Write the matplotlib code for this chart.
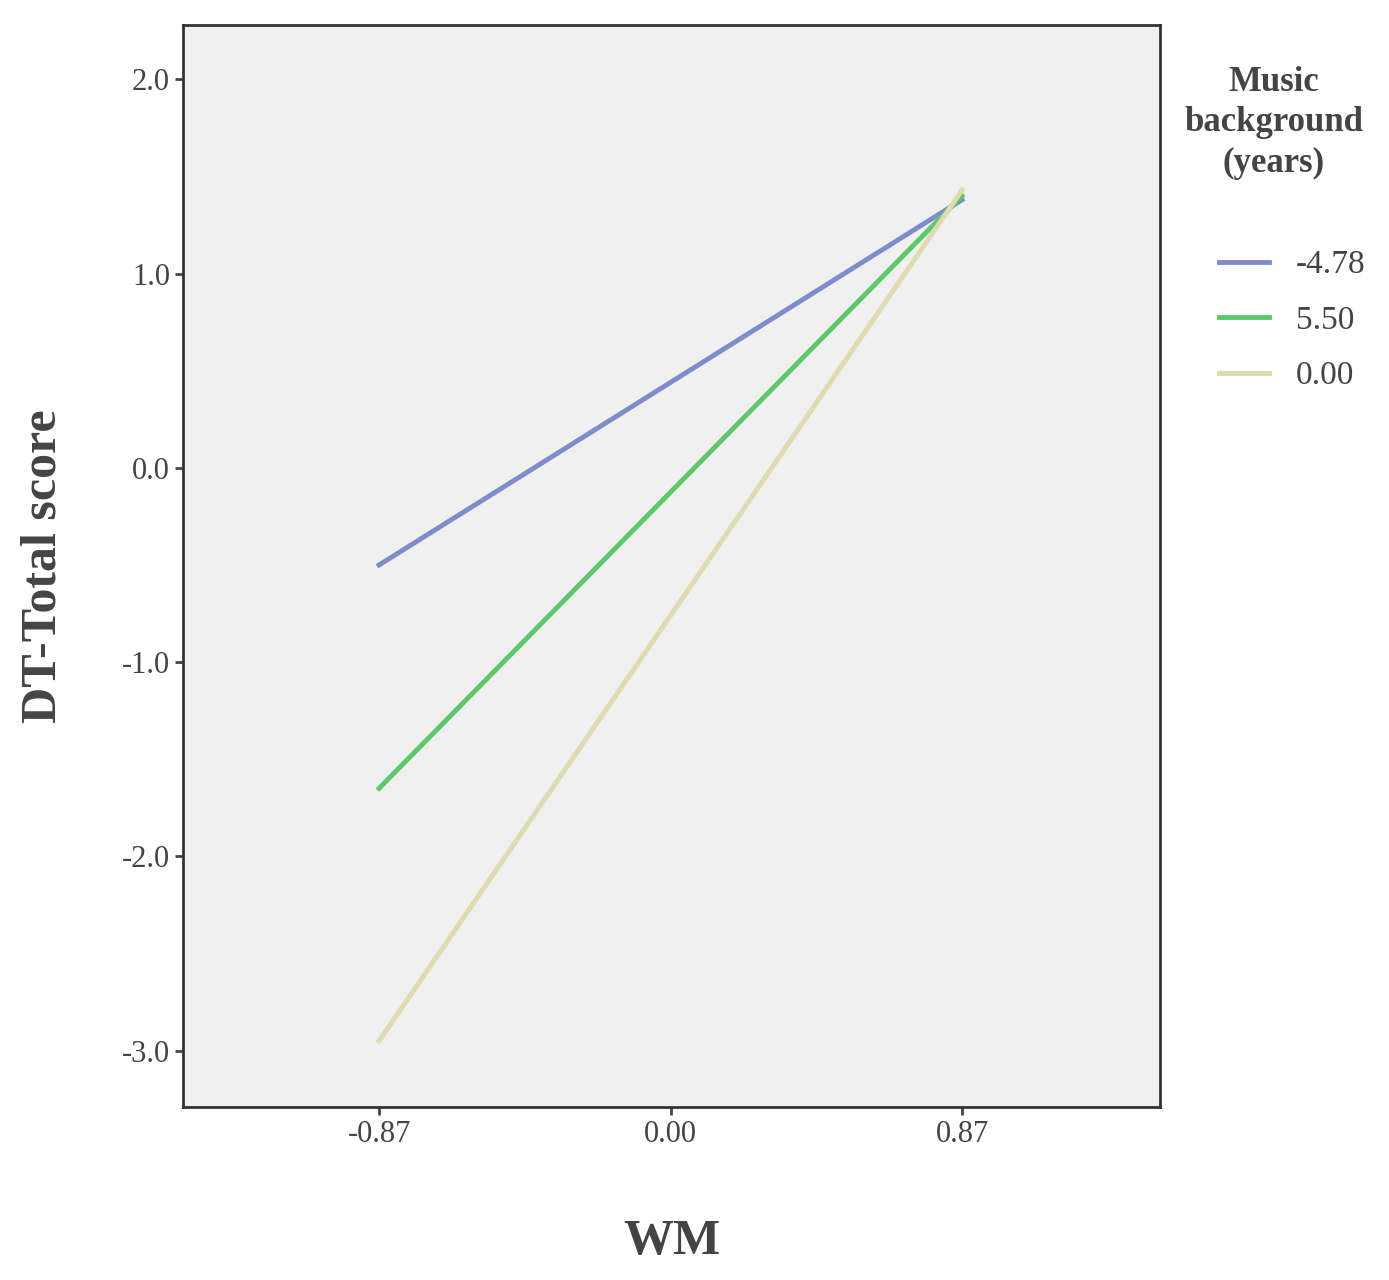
import matplotlib
matplotlib.use('Agg')
import matplotlib.pyplot as plt

plt.rcParams['font.family'] = ['Liberation Serif', 'DejaVu Serif']

# dados
wm = [-0.87, 0.87]
grupos = ['-4.78', '5.50', '0.00']
valores = {
    '-4.78': [-0.50, 1.38],
    '5.50': [-1.65, 1.40],
    '0.00': [-2.95, 1.43],
}
cores = {'-4.78': '#7f8ccc', '5.50': '#5dc86b', '0.00': '#dfdab0'}
xticks = [-0.87, 0.00, 0.87]
yticks = [2.0, 1.0, 0.0, -1.0, -2.0, -3.0]

fig = plt.figure(figsize=(13.89, 12.8), dpi=100)
ax = fig.add_axes([0.1318, 0.1352, 0.7034, 0.8453])
ax.set_facecolor('#f0f0f0')

for g in grupos:
    ax.plot(wm, valores[g], color=cores[g], linewidth=3.5, label=g)

ax.set_xlim(-1.455, 1.461)
ax.set_ylim(-3.29, 2.28)
ax.set_xticks(xticks)
ax.set_xticklabels(['-0.87', '0.00', '0.87'])
ax.set_yticks(yticks)
ax.set_yticklabels([f'{v:.1f}' for v in yticks])
ax.tick_params(labelsize=22, colors='#444444', length=6, width=2)
for s in ax.spines.values():
    s.set_linewidth(2)
    s.set_color('#333333')

ax.set_xlabel('WM', fontsize=36, fontweight='bold', color='#444444', labelpad=50)
ax.set_ylabel('DT-Total score', fontsize=36, fontweight='bold', color='#444444', labelpad=40)

leg = ax.legend(loc='upper left', bbox_to_anchor=(1.03, 0.82), frameon=False,
                fontsize=24, handlelength=1.5, labelspacing=0.75, labelcolor='#444444')
fig.text(0.917, 0.904, 'Music\nbackground\n(years)', ha='center', va='center',
         fontsize=25, fontweight='bold', color='#444444', linespacing=1.3)

fig.savefig('out.png', dpi=100)
